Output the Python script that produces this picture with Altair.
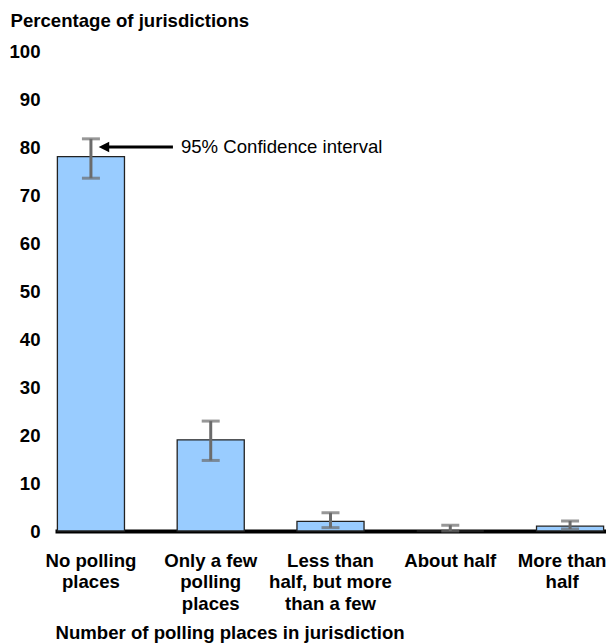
import altair as alt
import pandas as pd

categories = ["No polling places", "Only a few polling places",
              "Less than half, but more than a few", "About half", "More than half"]
label_lines = [["No polling", "places"],
               ["Only a few", "polling", "places"],
               ["Less than", "half, but more", "than a few"],
               ["About half"],
               ["More than", "half"]]
values = [78, 19, 2, 0, 1]
ci_low = [73.5, 14.7, 0.7, 0, 0.4]
ci_high = [81.7, 22.9, 3.8, 1.2, 2.1]

annot_category = ["No polling places"]
annot_value = [80]
annot_text = ["95% Confidence interval"]

FONT = "Liberation Sans"
FS = 18.6

df = pd.DataFrame({"category": categories, "value": values, "low": ci_low, "high": ci_high})
ann = pd.DataFrame({"category": annot_category, "y": annot_value, "text": annot_text})

# label expression for multi-line tick labels
expr = "''"
for cat, lines in reversed(list(zip(categories, label_lines))):
    arr = "[" + ",".join("'" + l + "'" for l in lines) + "]"
    expr = f"datum.value == '{cat}' ? {arr} : ({expr})"

xscale = alt.Scale(paddingInner=0.44, paddingOuter=0.02)
x_enc = alt.X("category:N", sort=categories, scale=xscale,
              axis=alt.Axis(title="Number of polling places in jurisdiction",
                            labelExpr=expr, labelAngle=0, labelFont=FONT, labelFontSize=FS,
                            labelFontWeight="bold", labelColor="black", labelPadding=20,
                            labelLineHeight=21.5, labelBaseline="top",
                            labelOffset={"condition": {"test": f"datum.value === '{categories[-1]}'",
                                                       "value": -8}, "value": 0},
                            labelBound=False,
                            ticks=False, tickSize=0, domainColor="black", domainWidth=4,
                            grid=False, titleFont=FONT, titleFontSize=FS, titleFontWeight="bold",
                            titleColor="black", titleAnchor="start", titleAlign="left",
                            titleX=0, titleY=101, titleBaseline="middle"))
yscale = alt.Scale(domain=[0, 100])
y_axis = alt.Axis(values=list(range(0, 101, 10)), title="Percentage of jurisdictions",
                  titleAngle=0, titleAlign="left", titleX=-45, titleY=-31,
                  titleBaseline="middle", titleFont=FONT, titleFontSize=FS,
                  titleFontWeight="bold", titleColor="black",
                  labelFont=FONT, labelFontSize=FS, labelFontWeight="bold", labelColor="black",
                  labelPadding=15, ticks=False, tickSize=0, domain=False, grid=False)

base = alt.Chart(df)
bars = base.mark_bar(color="#99CCFF", stroke="#222222", strokeWidth=1.3).encode(
    x=x_enc, y=alt.Y("value:Q", scale=yscale, axis=y_axis))
err = base.mark_rule(color="#6b6b6b", strokeWidth=3).encode(
    x=alt.X("category:N", sort=categories), y="low:Q", y2="high:Q")
cap_hi = base.mark_tick(color="#6b6b6b", thickness=3, size=18, orient="horizontal").encode(
    x=alt.X("category:N", sort=categories), y="high:Q")
cap_lo = base.mark_tick(color="#6b6b6b", thickness=3, size=18, orient="horizontal").encode(
    x=alt.X("category:N", sort=categories), y="low:Q")

abase = alt.Chart(ann)
shaft = abase.mark_rule(color="black", strokeWidth=3, xOffset=12, x2Offset=82).encode(
    x=alt.X("category:N", sort=categories, bandPosition=0.5),
    x2=alt.X2("category", bandPosition=0.5), y="y:Q")
head = abase.mark_point(shape="M -1 0 L 1 -1 L 1 1 Z", size=110, filled=True, color="black",
                        opacity=1, xOffset=13).encode(
    x=alt.X("category:N", sort=categories), y="y:Q")
label = abase.mark_text(align="left", baseline="middle", dx=90, font=FONT, fontSize=FS,
                        color="black").encode(
    x=alt.X("category:N", sort=categories), y="y:Q", text="text:N")

chart = alt.layer(bars, err, cap_hi, cap_lo, shaft, head, label).properties(
    width=551, height=480,
    autosize=alt.AutoSizeParams(type="none"),
    padding={"left": 47, "top": 43, "right": 0, "bottom": 120},
).configure(background="white").configure_view(strokeWidth=0, stroke="transparent")

chart.save("out.html", embed_options={"renderer": "svg", "actions": False})
